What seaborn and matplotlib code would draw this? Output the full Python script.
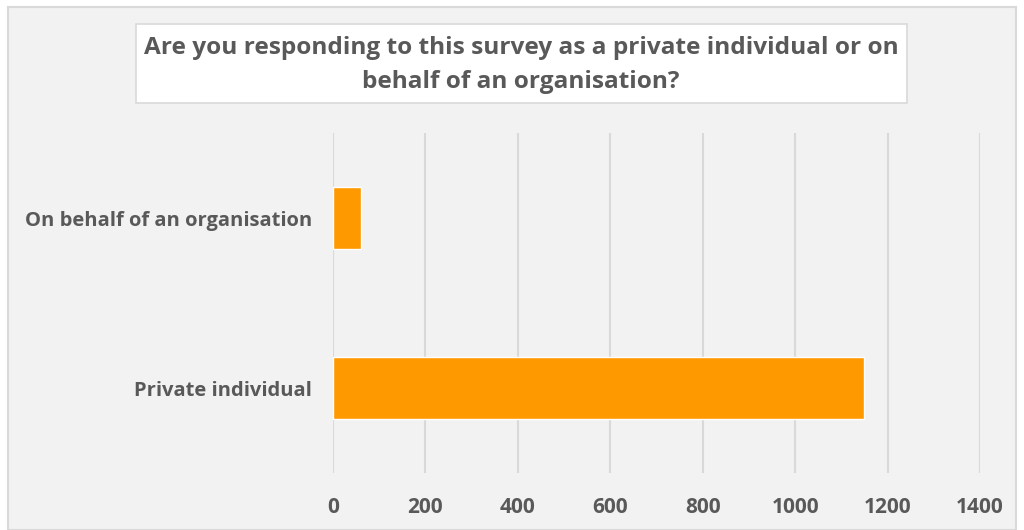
import matplotlib
matplotlib.use("Agg")
import matplotlib.pyplot as plt
import seaborn as sns
import pandas as pd
from matplotlib.patches import Rectangle

categories = ["On behalf of an organisation", "Private individual"]
values = [60, 1148]
xticks = [0, 200, 400, 600, 800, 1000, 1200, 1400]
title = "Are you responding to this survey as a private individual or on\nbehalf of an organisation?"

sns.set_theme(style="white")
plt.rcParams['font.family'] = ['Open Sans', 'DejaVu Sans']

df = pd.DataFrame({"cat": categories, "val": values})

fig = plt.figure(figsize=(10.24, 5.30), dpi=100)
fig.patch.set_facecolor("white")
fig.patches.append(Rectangle((8/1024, 0), 1 - 16/1024, 1 - 7/530, transform=fig.transFigure,
                             facecolor="#f2f2f2", edgecolor="#d9d9d9", linewidth=1.5, zorder=-10))

ax = fig.add_axes([333/1024, 1 - 473/530, (980 - 333)/1024, (473 - 133)/530])
ax.set_facecolor("none")
sns.barplot(data=df, x="val", y="cat", color="#FF9900", width=0.36, ax=ax, saturation=1)

ax.set_xlim(0, 1400)
ax.set_ylim(1.5, -0.5)
ax.set_xticks(xticks)
ax.set_xticklabels([str(t) for t in xticks])
ax.grid(axis="x", color="#d9d9d9", linewidth=1.5)
ax.set_axisbelow(True)
for s in ax.spines.values():
    s.set_visible(False)
ax.set_xlabel("")
ax.set_ylabel("")
ax.tick_params(axis="x", length=0, labelsize=15, labelcolor="#595959", pad=17)
ax.tick_params(axis="y", length=0, labelsize=14.5, labelcolor="#595959", pad=15)
for lab in ax.get_xticklabels() + ax.get_yticklabels():
    lab.set_fontweight("bold")

fig.patches.append(Rectangle((136/1024, 1 - 103/530), (907 - 136)/1024, (103 - 24)/530,
                             transform=fig.transFigure, facecolor="white", edgecolor="#d9d9d9",
                             linewidth=1.2, zorder=1))
fig.text(521/1024, 1 - 65/530, title, ha="center", va="center", fontsize=17.6, fontweight="bold",
         color="#595959", linespacing=1.5, zorder=2)

fig.savefig("out.png", dpi=100)
